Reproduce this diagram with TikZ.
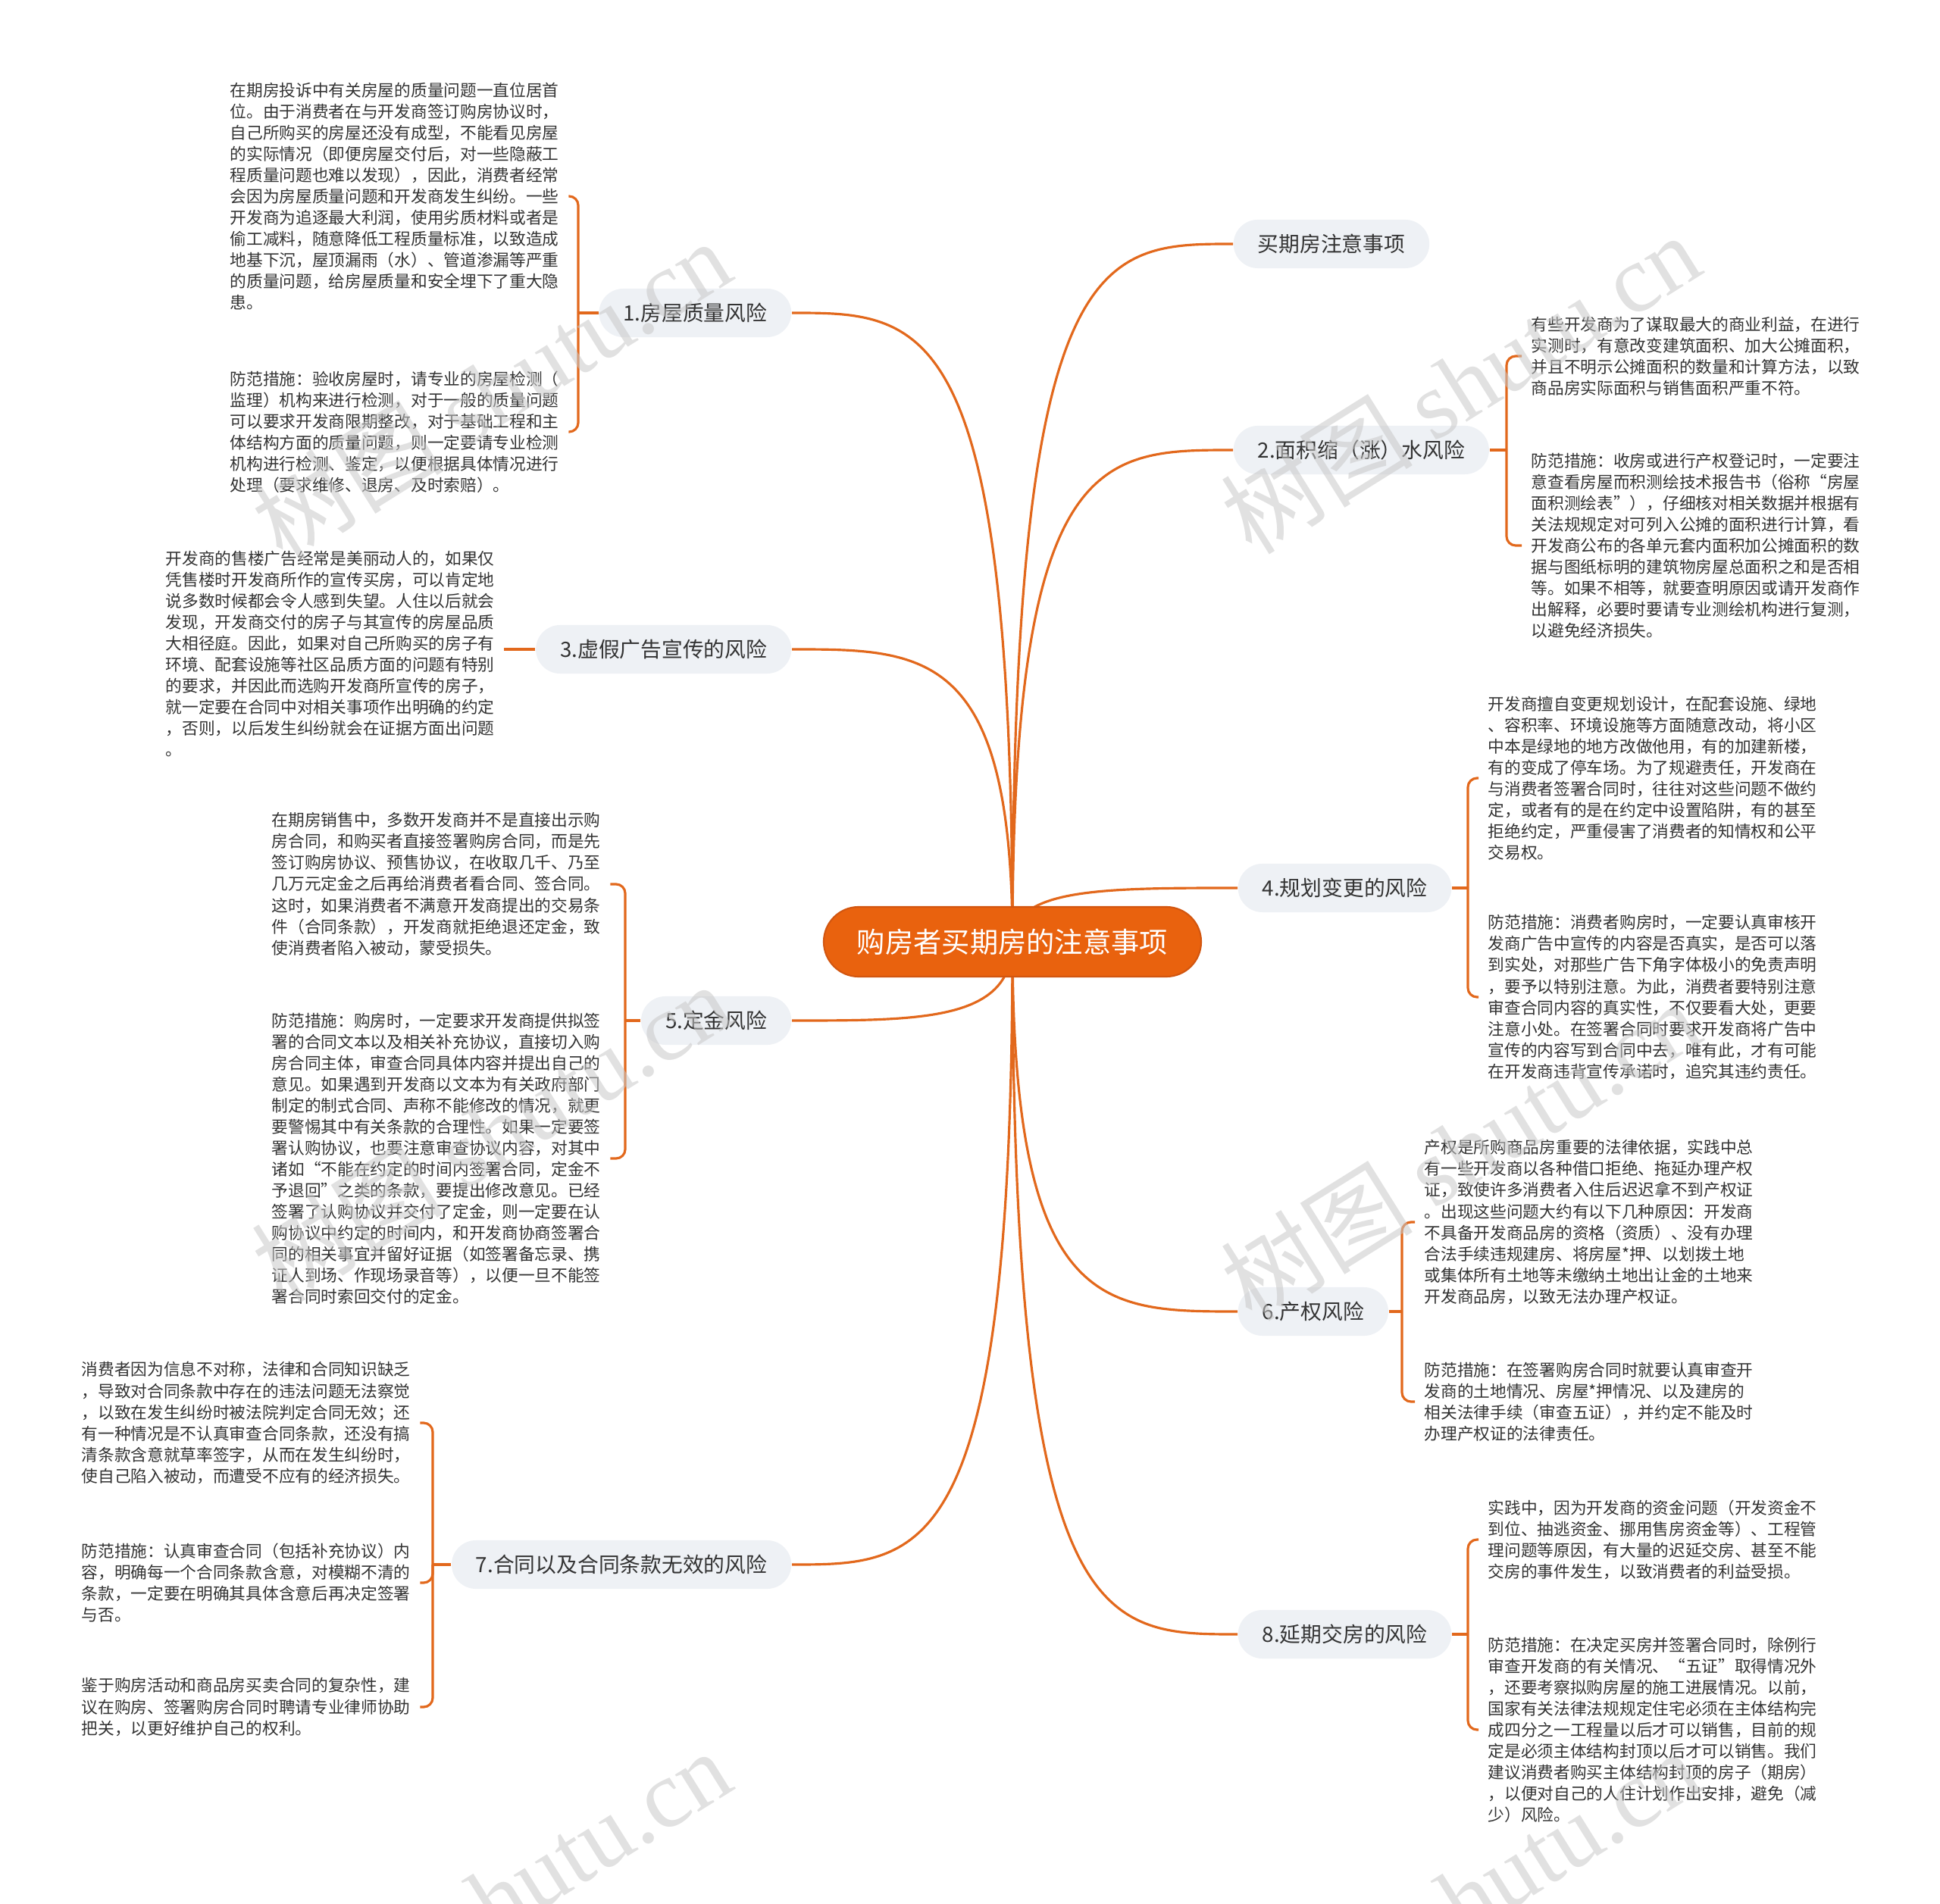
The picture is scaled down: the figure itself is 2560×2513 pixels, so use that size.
\documentclass[tikz,border=0pt]{standalone}
\usepackage{fontspec}
\setmainfont{Noto Sans CJK SC}
\newfontfamily\markfont{Liberation Serif}
\usetikzlibrary{calc,backgrounds}
\definecolor{linkorange}{RGB}{226,104,28}
\definecolor{rootorange}{RGB}{233,98,14}
\definecolor{rootedge}{RGB}{210,86,16}
\definecolor{pillgray}{RGB}{238,241,245}
\definecolor{inkgray}{RGB}{51,51,51}
\definecolor{markgray}{RGB}{200,200,200}
\tikzset{
  rootnode/.style={fill=rootorange, draw=rootedge, line width=0.6pt, rounded corners=0.46cm, minimum height=0.92cm, inner xsep=0.44cm, text=white, font=\fontsize{10.6pt}{12pt}\selectfont},
  topicnode/.style={fill=pillgray, rounded corners=0.32cm, minimum height=0.64cm, inner xsep=0.32cm, text=inkgray, font=\fontsize{7.9pt}{9pt}\selectfont},
  notenode/.style={align=left, inner xsep=0.12cm, inner ysep=0pt, text=inkgray, font=\fontsize{6.17pt}{7.97pt}\selectfont},
  branch/.style={draw=linkorange, line width=0.9pt, to path={.. controls (\tikztostart |- \tikztotarget) and ($(\tikztostart |- \tikztotarget)!0.4!(\tikztotarget)$) .. (\tikztotarget)}},
  twig/.style={draw=linkorange, line width=0.9pt, rounded corners=0.12cm},
  watermark/.style={text=markgray, opacity=0.55, rotate=32, font=\fontsize{36pt}{40pt}\selectfont}
}
\begin{document}
\begin{tikzpicture}[x=0.01cm, y=-0.01cm]
  \useasboundingbox (0,0) rectangle (2560,2513);

  \node[rootnode] (root) at (1336,1243) {购房者买期房的注意事项};

  \node[topicnode, anchor=east] (n1) at (1045,413) {1.房屋质量风险};
  \node[topicnode, anchor=east] (n3) at (1045,857) {3.虚假广告宣传的风险};
  \node[topicnode, anchor=east] (n5) at (1045,1347) {5.定金风险};
  \node[topicnode, anchor=east] (n7) at (1045,2065) {7.合同以及合同条款无效的风险};
  \node[topicnode, anchor=west] (n0) at (1627,322) {买期房注意事项};
  \node[topicnode, anchor=west] (n2) at (1627,594) {2.面积缩（涨）水风险};
  \node[topicnode, anchor=west] (n4) at (1633,1172) {4.规划变更的风险};
  \node[topicnode, anchor=west] (n6) at (1633,1731) {6.产权风险};
  \node[topicnode, anchor=west] (n8) at (1633,2157) {8.延期交房的风险};

  \node[notenode, anchor=west] (t1a) at (291,259) {在期房投诉中有关房屋的质量问题一直位居首\\位。由于消费者在与开发商签订购房协议时，\\自己所购买的房屋还没有成型，不能看见房屋\\的实际情况（即便房屋交付后，对一些隐蔽工\\程质量问题也难以发现），因此，消费者经常\\会因为房屋质量问题和开发商发生纠纷。一些\\开发商为追逐最大利润，使用劣质材料或者是\\偷工减料，随意降低工程质量标准，以致造成\\地基下沉，屋顶漏雨（水）、管道渗漏等严重\\的质量问题，给房屋质量和安全埋下了重大隐\\患。};
  \node[notenode, anchor=west] (t1b) at (291,570) {防范措施：验收房屋时，请专业的房屋检测（\\监理）机构来进行检测，对于一般的质量问题\\可以要求开发商限期整改，对于基础工程和主\\体结构方面的质量问题，则一定要请专业检测\\机构进行检测、鉴定，以便根据具体情况进行\\处理（要求维修、退房、及时索赔）。};
  \node[notenode, anchor=west] (t3) at (206,863) {开发商的售楼广告经常是美丽动人的，如果仅\\凭售楼时开发商所作的宣传买房，可以肯定地\\说多数时候都会令人感到失望。人住以后就会\\发现，开发商交付的房子与其宣传的房屋品质\\大相径庭。因此，如果对自己所购买的房子有\\环境、配套设施等社区品质方面的问题有特别\\的要求，并因此而选购开发商所宣传的房子，\\就一定要在合同中对相关事项作出明确的约定\\，否则，以后发生纠纷就会在证据方面出问题\\。};
  \node[notenode, anchor=west] (t5a) at (346,1167) {在期房销售中，多数开发商并不是直接出示购\\房合同，和购买者直接签署购房合同，而是先\\签订购房协议、预售协议，在收取几千、乃至\\几万元定金之后再给消费者看合同、签合同。\\这时，如果消费者不满意开发商提出的交易条\\件（合同条款），开发商就拒绝退还定金，致\\使消费者陷入被动，蒙受损失。};
  \node[notenode, anchor=west] (t5b) at (346,1529) {防范措施：购房时，一定要求开发商提供拟签\\署的合同文本以及相关补充协议，直接切入购\\房合同主体，审查合同具体内容并提出自己的\\意见。如果遇到开发商以文本为有关政府部门\\制定的制式合同、声称不能修改的情况，就更\\要警惕其中有关条款的合理性。如果一定要签\\署认购协议，也要注意审查协议内容，对其中\\诸如“不能在约定的时间内签署合同，定金不\\予退回”之类的条款，要提出修改意见。已经\\签署了认购协议并交付了定金，则一定要在认\\购协议中约定的时间内，和开发商协商签署合\\同的相关事宜并留好证据（如签署备忘录、携\\证人到场、作现场录音等），以便一旦不能签\\署合同时索回交付的定金。};
  \node[notenode, anchor=west] (t7a) at (95,1878) {消费者因为信息不对称，法律和合同知识缺乏\\，导致对合同条款中存在的违法问题无法察觉\\，以致在发生纠纷时被法院判定合同无效；还\\有一种情况是不认真审查合同条款，还没有搞\\清条款含意就草率签字，从而在发生纠纷时，\\使自己陷入被动，而遭受不应有的经济损失。};
  \node[notenode, anchor=west] (t7b) at (95,2089) {防范措施：认真审查合同（包括补充协议）内\\容，明确每一个合同条款含意，对模糊不清的\\条款，一定要在明确其具体含意后再决定签署\\与否。};
  \node[notenode, anchor=west] (t7c) at (95,2253) {鉴于购房活动和商品房买卖合同的复杂性，建\\议在购房、签署购房合同时聘请专业律师协助\\把关，以更好维护自己的权利。};

  \node[notenode, anchor=west] (t2a) at (2008,470) {有些开发商为了谋取最大的商业利益，在进行\\实测时，有意改变建筑面积、加大公摊面积，\\并且不明示公摊面积的数量和计算方法，以致\\商品房实际面积与销售面积严重不符。};
  \node[notenode, anchor=west] (t2b) at (2008,720) {防范措施：收房或进行产权登记时，一定要注\\意查看房屋而积测绘技术报告书（俗称“房屋\\面积测绘表”），仔细核对相关数据并根据有\\关法规规定对可列入公摊的面积进行计算，看\\开发商公布的各单元套内面积加公摊面积的数\\据与图纸标明的建筑物房屋总面积之和是否相\\等。如果不相等，就要查明原因或请开发商作\\出解释，必要时要请专业测绘机构进行复测，\\以避免经济损失。};
  \node[notenode, anchor=west] (t4a) at (1951,1027) {开发商擅自变更规划设计，在配套设施、绿地\\、容积率、环境设施等方面随意改动，将小区\\中本是绿地的地方改做他用，有的加建新楼，\\有的变成了停车场。为了规避责任，开发商在\\与消费者签署合同时，往往对这些问题不做约\\定，或者有的是在约定中设置陷阱，有的甚至\\拒绝约定，严重侵害了消费者的知情权和公平\\交易权。};
  \node[notenode, anchor=west] (t4b) at (1951,1316) {防范措施：消费者购房时，一定要认真审核开\\发商广告中宣传的内容是否真实，是否可以落\\到实处，对那些广告下角字体极小的免责声明\\，要予以特别注意。为此，消费者要特别注意\\审查合同内容的真实性，不仅要看大处，更要\\注意小处。在签署合同时要求开发商将广告中\\宣传的内容写到合同中去，唯有此，才有可能\\在开发商违背宣传承诺时，追究其违约责任。};
  \node[notenode, anchor=west] (t6a) at (1867,1613) {产权是所购商品房重要的法律依据，实践中总\\有一些开发商以各种借口拒绝、拖延办理产权\\证，致使许多消费者入住后迟迟拿不到产权证\\。出现这些问题大约有以下几种原因：开发商\\不具备开发商品房的资格（资质）、没有办理\\合法手续违规建房、将房屋*押、以划拨土地\\或集体所有土地等未缴纳土地出让金的土地来\\开发商品房，以致无法办理产权证。};
  \node[notenode, anchor=west] (t6b) at (1867,1850) {防范措施：在签署购房合同时就要认真审查开\\发商的土地情况、房屋*押情况、以及建房的\\相关法律手续（审查五证），并约定不能及时\\办理产权证的法律责任。};
  \node[notenode, anchor=west] (t8a) at (1951,2032) {实践中，因为开发商的资金问题（开发资金不\\到位、抽逃资金、挪用售房资金等）、工程管\\理问题等原因，有大量的迟延交房、甚至不能\\交房的事件发生，以致消费者的利益受损。};
  \node[notenode, anchor=west] (t8b) at (1951,2283) {防范措施：在决定买房并签署合同时，除例行\\审查开发商的有关情况、“五证”取得情况外\\，还要考察拟购房屋的施工进展情况。以前，\\国家有关法律法规规定住宅必须在主体结构完\\成四分之一工程量以后才可以销售，目前的规\\定是必须主体结构封顶以后才可以销售。我们\\建议消费者购买主体结构封顶的房子（期房）\\，以便对自己的人住计划作出安排，避免（减\\少）风险。};

  \coordinate (s1) at (763,413);
  \coordinate (s5) at (825,1347);
  \coordinate (s7) at (571,2065);
  \coordinate (s2) at (1988,594);
  \coordinate (s4) at (1937,1172);
  \coordinate (s6) at (1850,1731);
  \coordinate (s8) at (1937,2157);

  \begin{scope}[on background layer]
    \draw[branch] (root.center) to (n1.east);
    \draw[branch] (root.center) to (n3.east);
    \draw[branch] (root.center) to (n5.east);
    \draw[branch] (root.center) to (n7.east);
    \draw[branch] (root.center) to (n0.west);
    \draw[branch] (root.center) to (n2.west);
    \draw[branch] (root.center) to (n4.west);
    \draw[branch] (root.center) to (n6.west);
    \draw[branch] (root.center) to (n8.west);
  \end{scope}

  \draw[twig] (n1.west) -- (s1);
  \draw[twig] (s1) |- (t1a.east);
  \draw[twig] (s1) |- (t1b.east);
  \draw[twig] (n3.west) -- (n3.west -| t3.east);
  \draw[twig] (n5.west) -- (s5);
  \draw[twig] (s5) |- (t5a.east);
  \draw[twig] (s5) |- (t5b.east);
  \draw[twig] (n7.west) -- (s7);
  \draw[twig] (s7) |- (t7a.east);
  \draw[twig] (s7) |- (t7b.east);
  \draw[twig] (s7) |- (t7c.east);
  \draw[twig] (n2.east) -- (s2);
  \draw[twig] (s2) |- (t2a.west);
  \draw[twig] (s2) |- (t2b.west);
  \draw[twig] (n4.east) -- (s4);
  \draw[twig] (s4) |- (t4a.west);
  \draw[twig] (s4) |- (t4b.west);
  \draw[twig] (n6.east) -- (s6);
  \draw[twig] (s6) |- (t6a.west);
  \draw[twig] (s6) |- (t6b.west);
  \draw[twig] (n8.east) -- (s8);
  \draw[twig] (s8) |- (t8a.west);
  \draw[twig] (s8) |- (t8b.west);

  \node[watermark] (w1) at (648,514) {树图 {\markfont shutu.cn}};
  \node[watermark] (w2) at (1927,506) {树图 {\markfont shutu.cn}};
  \node[watermark] (w3) at (648,1494) {树图 {\markfont shutu.cn}};
  \node[watermark] (w4) at (1927,1518) {树图 {\markfont shutu.cn}};
  \node[watermark] (w5) at (648,2506) {树图 {\markfont shutu.cn}};
  \node[watermark] (w6) at (1927,2506) {树图 {\markfont shutu.cn}};
\end{tikzpicture}
\end{document}
